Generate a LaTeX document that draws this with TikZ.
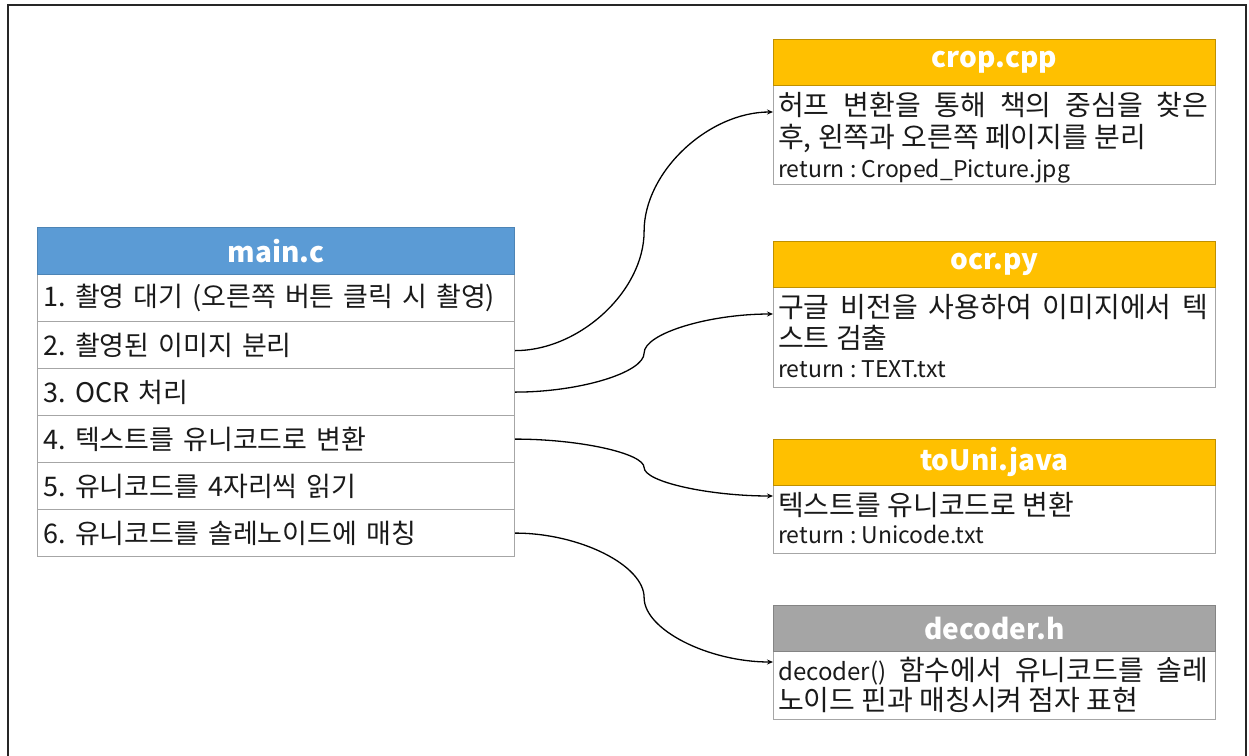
\documentclass[tikz,border=0pt]{standalone}
\usepackage{fontspec}
\setmainfont{Noto Sans CJK KR}
\usetikzlibrary{calc,arrows.meta}
\definecolor{hblue}{HTML}{5B9BD5}
\definecolor{hgold}{HTML}{FFC000}
\definecolor{hgray}{HTML}{A5A5A5}
\definecolor{bline}{HTML}{A6A6A6}
\definecolor{txtc}{HTML}{1A1A1A}
\frenchspacing
\tikzset{
  rowbox/.style={draw=bline, line width=1.2pt, anchor=north west, minimum width=477pt,
    minimum height=47pt, inner xsep=6pt, inner ysep=0pt, text width=465pt, align=left,
    text=txtc, font=\fontsize{27}{27}\selectfont},
  hdrbox/.style={anchor=north west, minimum width=442pt, minimum height=46pt, inner sep=0pt,
    text=white, font=\bfseries\fontsize{28}{28}\selectfont},
  bodybox/.style={draw=bline, line width=1.2pt, anchor=north west, minimum width=442pt, inner sep=0pt},
  txtline/.style={anchor=base west, inner sep=0pt, text=txtc, font=\fontsize{28}{28}\selectfont},
  retline/.style={txtline, font=\fontsize{23}{23}\selectfont},
  ppcurve/.style={to path={let \p1=(\tikztostart), \p2=(\tikztotarget) in
    .. controls ({(3*\x1+\x2)/4},\y1) and ({(\x1+\x2)/2},{(3*\y1+\y2)/4}) ..
    ({(\x1+\x2)/2},{(\y1+\y2)/2})
    .. controls ({(\x1+\x2)/2},{(\y1+3*\y2)/4}) and ({(\x1+3*\x2)/4},\y2) ..
    (\tikztotarget)}},
  conn/.style={draw=black, line width=1.3pt, -{Stealth[length=6pt,width=5pt]}, ppcurve}
}
\begin{document}
\begin{tikzpicture}[x=1pt,y=-1pt]
\useasboundingbox (0,0) rectangle (1249,755);
\fill[white] (0,0) rectangle (1249,755);
\draw[line width=1.4pt, black!85] (8,765) -- (8,5) -- (1246,5) -- (1246,765);

% main.c
\node[rowbox] (r1) at (37,274) {1. 촬영 대기 (오른쪽 버튼 클릭 시 촬영)};
\node[rowbox] (r2) at (37,321) {2. 촬영된 이미지 분리};
\node[rowbox] (r3) at (37,368) {3. OCR 처리};
\node[rowbox] (r4) at (37,415) {4. 텍스트를 유니코드로 변환};
\node[rowbox] (r5) at (37,462) {5. 유니코드를 4자리씩 읽기};
\node[rowbox] (r6) at (37,509) {6. 유니코드를 솔레노이드에 매칭};
\node[hdrbox, fill=hblue, draw=hblue!85!black, line width=0.8pt, minimum width=477pt, minimum height=47pt] (main) at (37,227) {main.c};

% crop.cpp
\node[bodybox, minimum height=99pt] (cropbody) at (773,85) {};
\node[hdrbox, fill=hgold, draw=hgold!75!black, line width=0.8pt] (crop) at (773,39) {crop.cpp};
\node[txtline] (cropa) at (778,115) {\makebox[430pt][s]{허프 변환을 통해 책의 중심을 찾은}};
\node[txtline] (cropb) at (778,147) {후, 왼쪽과 오른쪽 페이지를 분리};
\node[retline] (cropc) at (778,177) {return : Croped\_Picture.jpg};

% ocr.py
\node[bodybox, minimum height=100pt] (ocrbody) at (773,287) {};
\node[hdrbox, fill=hgold, draw=hgold!75!black, line width=0.8pt] (ocr) at (773,241) {ocr.py};
\node[txtline] (ocra) at (778,317) {\makebox[430pt][s]{구글 비전을 사용하여 이미지에서 텍}};
\node[txtline] (ocrb) at (778,348) {스트 검출};
\node[retline] (ocrc) at (778,377) {return : TEXT.txt};

% toUni.java
\node[bodybox, minimum height=68pt] (unibody) at (773,485) {};
\node[hdrbox, fill=hgold, draw=hgold!75!black, line width=0.8pt] (uni) at (773,439) {toUni.java};
\node[txtline] (unia) at (778,515) {텍스트를 유니코드로 변환};
\node[retline] (unic) at (778,543) {return : Unicode.txt};

% decoder.h
\node[bodybox, minimum height=68pt] (decbody) at (773,651) {};
\node[hdrbox, fill=hgray, draw=hgray!80!black, line width=0.8pt] (dec) at (773,605) {decoder.h};
\node[txtline] (deca) at (778,680) {\makebox[430pt][s]{{\fontsize{24}{24}\selectfont decoder()} 함수에서 유니코드를 솔레}};
\node[txtline] (decb) at (778,710) {노이드 핀과 매칭시켜 점자 표현};

% connectors
\draw[conn] ([yshift=-5.5pt]r2.east) to ([yshift=-27pt]cropbody.north west);
\draw[conn] (r3.east) to ([yshift=-27pt]ocrbody.north west);
\draw[conn] (r4.east) to ([yshift=-11pt]unibody.north west);
\draw[conn] (r6.east) to ([yshift=-11pt]decbody.north west);
\end{tikzpicture}
\end{document}
